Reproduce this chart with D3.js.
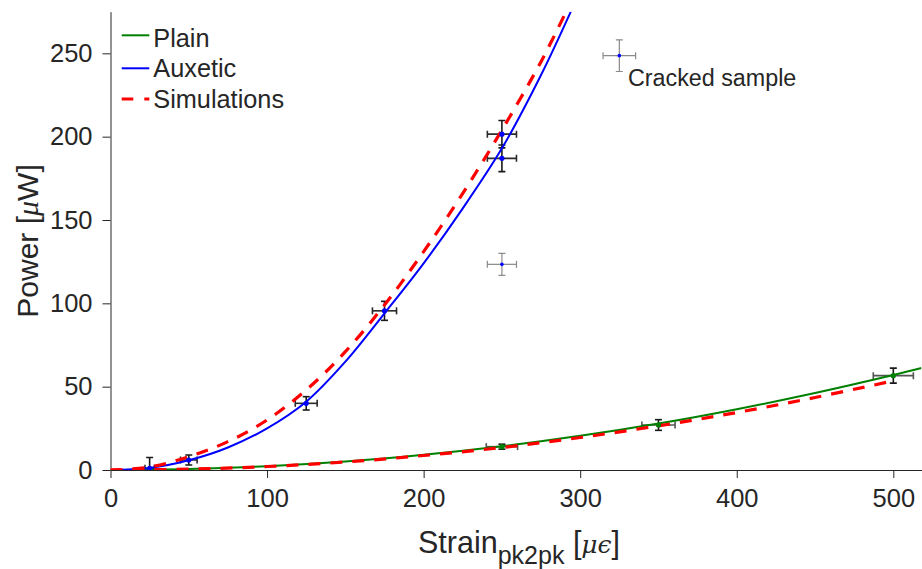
<!DOCTYPE html>
<html>
<head>
<meta charset="utf-8">
<script src="https://cdn.jsdelivr.net/npm/d3@7"></script>
<style>
  html, body { margin: 0; padding: 0; background: #fff; }
  svg { display: block; }
  text { font-family: "Liberation Sans", Arial, Helvetica, sans-serif; fill: #262626; }
</style>
</head>
<body>
<svg id="chart" width="922" height="569"></svg>
<script>
// ---------- data ----------
const xTicks = [0, 100, 200, 300, 400, 500];
const yTicks = [0, 50, 100, 150, 200, 250];

// fitted curves (read at sample strains)
const plainFitX = [0, 50, 100, 150, 200, 250, 300, 350, 400, 450, 500, 518];
const plainFitY = [0, 0.6, 2.3, 5.1, 9.1, 14.2, 20.5, 27.9, 36.5, 46.2, 57, 61.2];

const auxFitX = [0, 25, 50, 75, 100, 125, 150, 175, 200, 225, 250, 275, 294];
const auxFitY = [0, 1.2, 5.8, 13.5, 25, 41, 65, 94, 124, 157, 193, 237, 275];

const simAuxX = [0, 25, 50, 75, 100, 125, 150, 175, 200, 225, 250, 275, 291];
const simAuxY = [0, 1.8, 8, 17, 30, 48, 71, 99, 131, 166, 204, 245, 275];

const simPlainX = [0, 50, 100, 150, 200, 250, 300, 350, 400, 450, 500];
const simPlainY = [0, 0.5, 2.1, 4.8, 8.7, 13.5, 19.5, 26.5, 34.5, 43.5, 53.5];

// measured points with error bars
const auxX    = [25, 50, 125, 175, 250, 250];
const auxY    = [1, 6, 40, 95.5, 201.5, 187];
const auxXErr = [3, 5.3, 7, 7.7, 9.3, 9.3];
const auxYErr = [6.5, 3, 4, 5.7, 8.2, 8];

const plainX    = [250, 350, 500];
const plainY    = [14, 27, 56.6];
const plainXErr = [10, 10.6, 12.8];
const plainYErr = [1.5, 3.2, 4.5];

const crackedX    = [250, 325];
const crackedY    = [123.4, 248.6];
const crackedXErr = [9.3, 10.4];
const crackedYErr = [6.6, 9.5];

const legendLabels = ["Plain", "Auxetic", "Simulations"];
const annotation = "Cracked sample";

// ---------- layout ----------
const svg = d3.select("#chart");
const x = d3.scaleLinear().domain([0, 518]).range([110.5, 921.5]);
const y = d3.scaleLinear().domain([0, 275]).range([470, 11.67]);

svg.append("defs").append("clipPath").attr("id", "plotclip")
  .append("rect")
  .attr("x", x(0)).attr("y", y(275))
  .attr("width", x(518) - x(0)).attr("height", y(0) - y(275));

// axes
const xAxis = svg.append("g").attr("transform", `translate(0,${y(0)})`)
  .call(d3.axisBottom(x).tickValues(xTicks).tickSize(8).tickPadding(11).tickSizeOuter(0));
const yAxis = svg.append("g").attr("transform", `translate(${x(0)},0)`)
  .call(d3.axisLeft(y).tickValues(yTicks).tickSize(8).tickPadding(10).tickSizeOuter(0));
[xAxis, yAxis].forEach(g => {
  g.select(".domain").attr("stroke", "#262626").attr("stroke-width", 1);
  g.selectAll(".tick line").attr("stroke", "#262626").attr("stroke-width", 1);
  g.selectAll(".tick text").attr("fill", "#262626")
    .style("font-size", "25.5px").style("font-family", '"Liberation Sans", Arial, sans-serif');
});

const plot = svg.append("g").attr("clip-path", "url(#plotclip)");

// error bars
function errorBars(xs, ys, xe, ye, vColor, hColor, width, cap) {
  const g = plot.append("g");
  xs.forEach((xv, i) => {
    const cx = x(xv), cy = y(ys[i]);
    const x1 = x(xv - xe[i]), x2 = x(xv + xe[i]);
    const y1 = y(ys[i] - ye[i]), y2 = y(ys[i] + ye[i]);
    // horizontal
    g.append("line").attr("x1", x1).attr("x2", x2).attr("y1", cy).attr("y2", cy)
      .attr("stroke", hColor).attr("stroke-width", width);
    [x1, x2].forEach(xx => g.append("line").attr("x1", xx).attr("x2", xx)
      .attr("y1", cy - cap).attr("y2", cy + cap).attr("stroke", hColor).attr("stroke-width", width));
    // vertical
    g.append("line").attr("x1", cx).attr("x2", cx).attr("y1", y1).attr("y2", y2)
      .attr("stroke", vColor).attr("stroke-width", width);
    [y1, y2].forEach(yy => g.append("line").attr("x1", cx - cap).attr("x2", cx + cap)
      .attr("y1", yy).attr("y2", yy).attr("stroke", vColor).attr("stroke-width", width));
  });
}
errorBars(crackedX, crackedY, crackedXErr, crackedYErr, "#8a8a8a", "#8a8a8a", 1.2, 3.5);
errorBars(auxX, auxY, auxXErr, auxYErr, "#1a1a1a", "#2a2a2a", 1.6, 3.5);
errorBars(plainX, plainY, plainXErr, plainYErr, "#1a1a1a", "#555555", 1.6, 3.5);

// curves
const line = d3.line().x(d => x(d[0])).y(d => y(d[1])).curve(d3.curveCatmullRom.alpha(0.5));
const zip = (a, b) => a.map((v, i) => [v, b[i]]);

plot.append("path").attr("d", line(zip(plainFitX, plainFitY)))
  .attr("fill", "none").attr("stroke", "#008000").attr("stroke-width", 2);
plot.append("path").attr("d", line(zip(auxFitX, auxFitY)))
  .attr("fill", "none").attr("stroke", "#0000ff").attr("stroke-width", 2);
plot.append("path").attr("d", line(zip(simAuxX, simAuxY)))
  .attr("fill", "none").attr("stroke", "#ff0000").attr("stroke-width", 3.2)
  .attr("stroke-dasharray", "12,10");
plot.append("path").attr("d", line(zip(simPlainX, simPlainY)))
  .attr("fill", "none").attr("stroke", "#ff0000").attr("stroke-width", 3.2)
  .attr("stroke-dasharray", "12,10");

// points
plot.append("g").selectAll("circle").data(zip(auxX, auxY)).join("circle")
  .attr("cx", d => x(d[0])).attr("cy", d => y(d[1])).attr("r", 2.6).attr("fill", "#0000ff");
plot.append("g").selectAll("circle").data(zip(plainX, plainY)).join("circle")
  .attr("cx", d => x(d[0])).attr("cy", d => y(d[1])).attr("r", 2.6).attr("fill", "#008000");
plot.append("g").selectAll("circle").data(zip(crackedX, crackedY)).join("circle")
  .attr("cx", d => x(d[0])).attr("cy", d => y(d[1])).attr("r", 1.8).attr("fill", "#0000ff");

// annotation
svg.append("text").attr("x", 628).attr("y", 86).style("font-size", "23.3px")
  .attr("fill", "#000").text(annotation);

// legend
const legendColors = ["#008000", "#0000ff", "#ff0000"];
const legendY = [35.3, 68.3, 99];
const legendBase = [47.3, 77, 107.5];
legendLabels.forEach((lab, i) => {
  const l = svg.append("line").attr("x1", 121.7).attr("x2", 149.3)
    .attr("y1", legendY[i]).attr("y2", legendY[i])
    .attr("stroke", legendColors[i]).attr("stroke-width", i === 2 ? 3.2 : 2);
  if (i === 2) l.attr("stroke-dasharray", "11.6,11");
  svg.append("text").attr("x", 153.3).attr("y", legendBase[i])
    .style("font-size", "25.3px").attr("fill", "#000").text(lab);
});

// axis labels
const yl = svg.append("text").attr("transform", "translate(38,241) rotate(-90)")
  .attr("text-anchor", "middle").style("font-size", "30px");
yl.append("tspan").text("Power [");
yl.append("tspan").style("font-family", '"Liberation Serif", "DejaVu Serif", serif')
  .style("font-style", "italic").text("\u03BC");
yl.append("tspan").text("W]");

const xl = svg.append("text").attr("x", 418).attr("y", 553).style("font-size", "30.5px");
xl.append("tspan").text("Strain");
xl.append("tspan").attr("dy", 11).style("font-size", "25px").text("pk2pk");
xl.append("tspan").attr("dy", -11).text(" [");
xl.append("tspan").style("font-family", '"DejaVu Serif", serif')
  .style("font-style", "italic").style("font-size", "25px").text("\u03BC\u03F5");
xl.append("tspan").text("]");
</script>
</body>
</html>
